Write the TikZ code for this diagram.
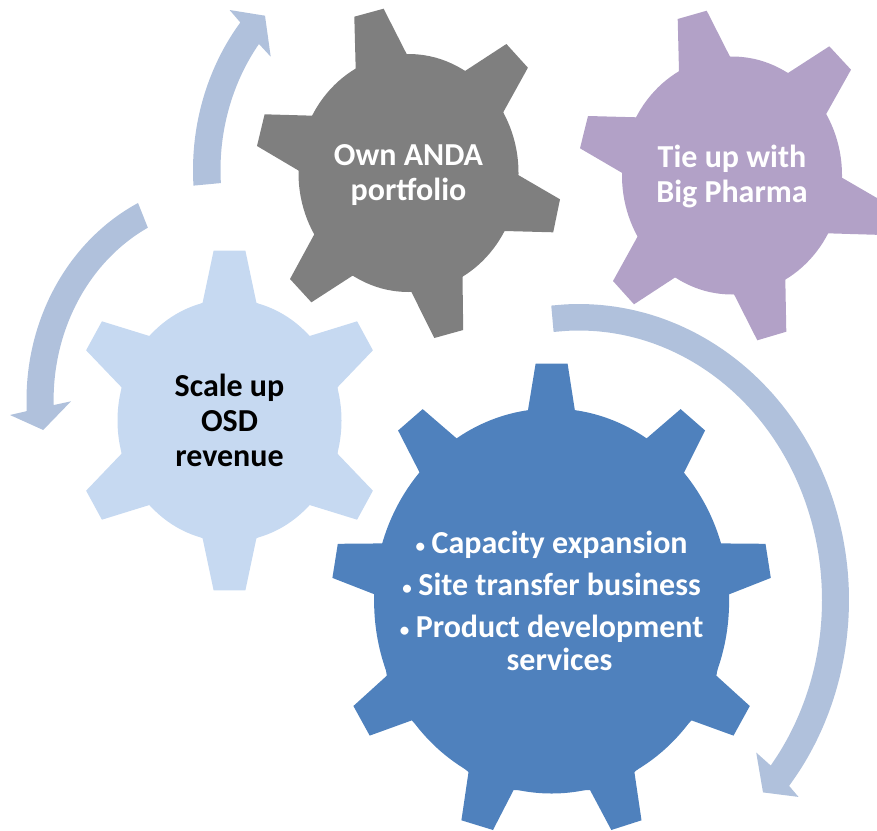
\documentclass[tikz,border=0pt]{standalone}
\usepackage{fontspec}
\setmainfont{Carlito}
\definecolor{gearDark}{HTML}{7F7F7F}
\definecolor{gearPurple}{HTML}{B2A1C7}
\definecolor{gearLight}{HTML}{C6D9F1}
\definecolor{gearBlue}{HTML}{4F81BD}
\definecolor{arrowBlue}{HTML}{B0C1DC}
\newcommand{\gearbullet}{\makebox[16pt][l]{\raisebox{1pt}{\fontsize{19}{19}\selectfont\textbullet}}}
\tikzset{
  gearlabel/.style={font=\bfseries\fontsize{32}{35}\selectfont,align=center,inner sep=0pt},
  turnarrow/.style={fill=arrowBlue},
  turnplot/.style={samples=40,smooth}
}
\begin{document}
\begin{tikzpicture}[x=1pt,y=-1pt]
\useasboundingbox (0,0) rectangle (877,830);

% turning arrows
\fill[turnarrow] plot[turnplot,domain=176.2:218.7] ({408.5+215.5*cos(\x)},{170+236*sin(\x)})
 -- (229.6,10) -- (265,15.7) -- (270.7,56.7)
 -- plot[turnplot,domain=217.3:176.4] ({408.5+188*cos(\x)},{170+208*sin(\x)}) -- cycle;

\fill[turnarrow] plot[turnplot,domain=243.8:177.1] ({226.2+199.7*cos(\x)},{400+219.6*sin(\x)})
 -- (10,415) -- (43.2,430) -- (71,401.3)
 -- plot[turnplot,domain=178.5:243] ({226.2+172.6*cos(\x)},{400+193.4*sin(\x)}) -- cycle;

\fill[turnarrow] plot[turnplot,domain=-95.9:38.9] ({579+270*cos(\x)},{600+296*sin(\x)})
 -- (798.5,796.9) -- (763,792.4) -- (756.2,752.5)
 -- plot[turnplot,domain=37.9:-96] ({579+243*cos(\x)},{600+269.5*sin(\x)}) -- cycle;

% dark gear
\fill[gearDark] (408.5,173) ellipse (110 and 119);
\fill[gearDark] (354.3,16.7) -- (383.6,8.7) -- (406.8,54.3) -- (465,71) -- (506.4,44) -- (527.9,67.7)
 -- (503.2,112.3) -- (518.2,175) -- (560,199.3) -- (553.2,232.3) -- (504.3,231) -- (462.5,276.7)
 -- (463.2,330) -- (434.3,338) -- (411.4,292) -- (352.5,275.7) -- (311.4,302.3) -- (290,279)
 -- (314.3,234.3) -- (299.3,171) -- (257,146) -- (264.6,114.3) -- (313.2,115.7) -- (355.7,69.3) -- cycle;
\node[gearlabel,text=white] (own) at (408.5,175) {Own ANDA\\portfolio};

% purple gear
\fill[gearPurple] (732,175.5) ellipse (110 and 119);
\fill[gearPurple] (677.7,19) -- (706.7,10.7) -- (730,56.7) -- (788,73) -- (829.3,46.3) -- (851,69.7)
 -- (826,114.3) -- (841.3,177.3) -- (883.5,201.8) -- (876.7,234.8) -- (827.3,233.3) -- (785.3,278.7)
 -- (786.3,331.7) -- (757.3,340.3) -- (734,294.3) -- (675.3,277.3) -- (634,304.3) -- (613,281)
 -- (637.7,236.3) -- (622.3,173) -- (580,148.3) -- (588,116) -- (636.7,117.3) -- (679,71.7) -- cycle;
\node[gearlabel,text=white] (tieup) at (732,176) {Tie up with\\Big Pharma};

% light gear
\fill[gearLight] (229.5,420.5) ellipse (112 and 121);
\fill[gearLight] (213.6,250.7) -- (245.4,250.7) -- (256.4,302.7) -- (309.6,336) -- (357.1,321.3) -- (372.9,350.3)
 -- (337.5,387.3) -- (337.5,453.7) -- (372.9,490.7) -- (357.1,519.7) -- (309.6,505) -- (256.4,538.3)
 -- (245.4,590.3) -- (213.6,590.3) -- (202.6,538.3) -- (149.4,505) -- (101.9,519.7) -- (86.1,490.7)
 -- (121.5,453.7) -- (121.5,387.3) -- (86.1,350.3) -- (101.9,321.3) -- (149.4,336) -- (202.6,302.7) -- cycle;
\node[gearlabel,text=black] (scale) at (229.5,420.5) {Scale up\\OSD\\revenue};

% big gear
\fill[gearBlue] (551.6,601) ellipse (177.5 and 192.5);
\fill[gearBlue] (535.6,363.7) -- (567.6,363.7) -- (575,411.2) -- (646.1,438.8) -- (680.6,409.1) -- (705.1,430.5)
 -- (683.8,472.9) -- (720.4,543.4) -- (765.5,543.8) -- (770.8,577.9) -- (728.9,594.4) -- (716.4,675.7)
 -- (749.8,706) -- (733.5,735.6) -- (691.6,720.4) -- (634.4,772.1) -- (641.5,820.3) -- (611.3,830)
 -- (590,790) -- (513.6,790) -- (493,830) -- (461.4,820.3) -- (468.5,772.1) -- (411.7,720.4)
 -- (369.7,735.6) -- (353.4,706) -- (386.8,675.7) -- (374.7,594.4) -- (332.4,577.9) -- (337.8,543.8)
 -- (383.2,543.4) -- (419.8,472.9) -- (398.1,430.5) -- (422.7,409.1) -- (457.1,438.8) -- (527.8,411.2) -- cycle;
\node[gearlabel,text=white] (services) at (551.6,601) {\gearbullet Capacity expansion\\[7pt]
 \gearbullet Site transfer business\\[7pt]
 \gearbullet Product development\\[-2pt]
 \hspace*{16pt}services};
\end{tikzpicture}
\end{document}
